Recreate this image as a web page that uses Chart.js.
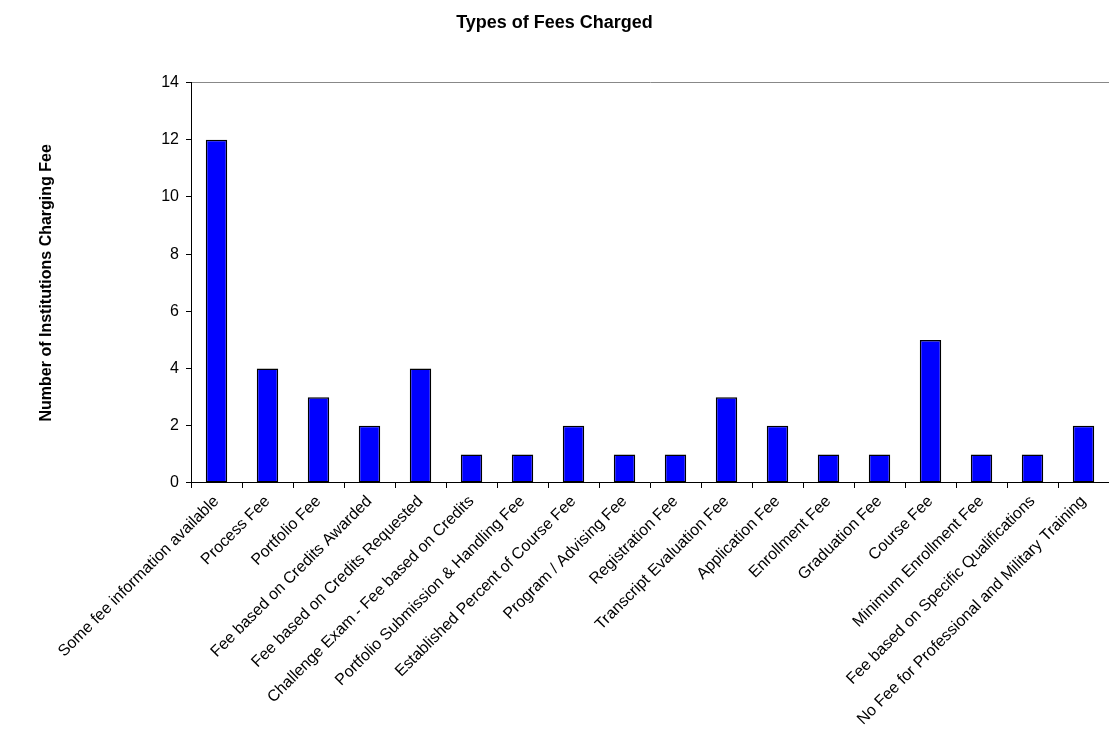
<!DOCTYPE html>
<html>
<head>
<meta charset="utf-8">
<script src="https://cdn.jsdelivr.net/npm/chart.js@4"></script>
<style>
  body { margin: 0; background: #fff; }
  #wrap { width: 1109px; height: 740px; }
</style>
</head>
<body>
<div id="wrap"><canvas id="feesChart"></canvas></div>
<script>
// Fee types and how many institutions charge each
const feeTypes = [
    'Some fee information available',
    'Process Fee',
    'Portfolio Fee',
    'Fee based on Credits Awarded',
    'Fee based on Credits Requested',
    'Challenge Exam - Fee based on Credits',
    'Portfolio Submission & Handling Fee',
    'Established Percent of Course Fee',
    'Program / Advising Fee',
    'Registration Fee',
    'Transcript Evaluation Fee',
    'Application Fee',
    'Enrollment Fee',
    'Graduation Fee',
    'Course Fee',
    'Minimum Enrollment Fee',
    'Fee based on Specific Qualifications',
    'No Fee for Professional and Military Training'
];
const institutionCounts = [12, 4, 3, 2, 4, 1, 1, 2, 1, 1, 3, 2, 1, 1, 5, 1, 1, 2];
const yTicks = [0, 2, 4, 6, 8, 10, 12, 14];

Chart.defaults.font.family = '"Liberation Sans", Arial, sans-serif';
Chart.defaults.color = '#000';

const ctx = document.getElementById('feesChart').getContext('2d');
new Chart(ctx, {
    type: 'bar',
    data: {
        labels: feeTypes,
        datasets: [{
            label: 'Institutions',
            data: institutionCounts,
            backgroundColor: '#0000FF',
            borderColor: '#000',
            borderWidth: 1.5,
            borderSkipped: false,
            barPercentage: 0.42,
            categoryPercentage: 1
        }]
    },
    options: {
        responsive: true,
        maintainAspectRatio: false,
        animation: false,
        layout: { padding: { top: 8, right: 0, bottom: 7, left: 0 } },
        plugins: {
            legend: { display: false },
            tooltip: { enabled: false },
            title: {
                display: true,
                text: 'Types of Fees Charged',
                font: { size: 18, weight: 'bold' },
                padding: { top: 4, bottom: 49 }
            }
        },
        scales: {
            x: {
                grid: {
                    offset: true,
                    color: 'transparent',
                    tickColor: '#000',
                    tickLength: 5
                },
                border: { color: '#000', width: 1 },
                ticks: {
                    autoSkip: false,
                    maxRotation: 45,
                    minRotation: 45,
                    font: { size: 16 },
                    padding: 4
                }
            },
            y: {
                min: 0,
                max: 14,
                afterBuildTicks: scale => {
                    scale.ticks = yTicks.map(v => ({ value: v }));
                },
                afterFit: scale => { scale.width = 191; },
                grid: {
                    color: c => (c.tick && c.tick.value === 14) ? '#888' : 'transparent',
                    tickColor: '#000',
                    tickLength: 5
                },
                border: { color: '#000', width: 1 },
                ticks: { font: { size: 16 }, padding: 7 },
                title: {
                    display: true,
                    text: 'Number of Institutions Charging Fee',
                    font: { size: 16, weight: 'bold' },
                    padding: { top: 37, bottom: 0 }
                }
            }
        }
    }
});
</script>
</body>
</html>
